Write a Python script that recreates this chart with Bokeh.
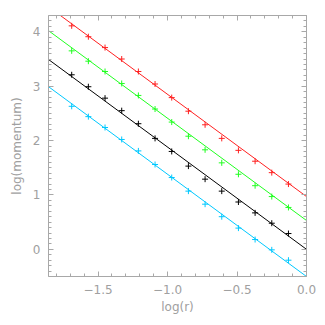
from bokeh.plotting import figure
from bokeh.models import LinearAxis, SingleIntervalTicker, Range1d, CustomLabelingPolicy
from bokeh.embed import file_html
from bokeh.resources import INLINE

# data
log_r = [-1.69, -1.57, -1.45, -1.33, -1.21, -1.09, -0.97, -0.85, -0.73, -0.61, -0.49, -0.37, -0.25, -0.13]
red_vals = [4.11, 3.91, 3.71, 3.50, 3.27, 3.04, 2.79, 2.54, 2.29, 2.04, 1.82, 1.62, 1.41, 1.20]
green_vals = [3.65, 3.46, 3.27, 3.05, 2.83, 2.58, 2.34, 2.08, 1.83, 1.59, 1.38, 1.17, 0.97, 0.77]
black_vals = [3.21, 2.99, 2.78, 2.55, 2.31, 2.04, 1.80, 1.53, 1.29, 1.07, 0.87, 0.67, 0.48, 0.29]
cyan_vals = [2.63, 2.44, 2.24, 2.02, 1.81, 1.56, 1.32, 1.07, 0.83, 0.60, 0.39, 0.18, -0.01, -0.20]
fit_slope = -1.88
fit_intercepts = [0.97, 0.53, 0.0, -0.5]
series_colors = ["#ff2020", "#20ff20", "#000000", "#00c8ff"]
x_ticks = [-1.5, -1.0, -0.5, 0.0]
x_tick_labels = ["\u22121.5", "\u22121.0", "\u22120.5", "0.0"]
x_range = (-1.857, 0.0)
y_range = (-0.5, 4.3)

AX = "#a8a8a8"
TXT = "#a0a0a0"
FONT = "DejaVu Sans"

p = figure(width=317, height=317, output_backend="svg", toolbar_location=None,
           x_range=Range1d(*x_range), y_range=Range1d(*y_range),
           x_axis_location=None, y_axis_location=None,
           min_border_left=48, min_border_right=8, min_border_top=15, min_border_bottom=41)
p.grid.visible = False
p.outline_line_color = None
p.background_fill_color = "white"
p.border_fill_color = "white"

no_labels = CustomLabelingPolicy(code="return new Set()")


def style(ax, labels=True):
    ax.axis_line_color = AX
    ax.major_tick_line_color = AX
    ax.minor_tick_line_color = AX
    ax.major_tick_in = 5
    ax.major_tick_out = 0
    ax.minor_tick_in = 3
    ax.minor_tick_out = 0
    ax.major_label_text_color = TXT
    ax.major_label_text_font = FONT
    ax.major_label_text_font_size = "12px"
    ax.axis_label_text_color = TXT
    ax.axis_label_text_font = FONT
    ax.axis_label_text_font_size = "12px"
    ax.axis_label_text_font_style = "normal"
    if not labels:
        ax.major_label_policy = no_labels
        ax.major_label_standoff = 0


xt = lambda: SingleIntervalTicker(interval=0.5, num_minor_ticks=5)
yt = lambda: SingleIntervalTicker(interval=1, num_minor_ticks=10)

bx = LinearAxis(ticker=xt(), axis_label="log(r)")
bx.major_label_overrides = {t: l for t, l in zip(x_ticks, x_tick_labels)}
style(bx)
bx.major_label_standoff = 8
bx.axis_label_standoff = 3
p.add_layout(bx, "below")

ly = LinearAxis(ticker=yt(), axis_label="log(momentum)")
style(ly)
ly.major_label_standoff = 8
ly.axis_label_standoff = 6
p.add_layout(ly, "left")

tx = LinearAxis(ticker=xt())
style(tx, labels=False)
p.add_layout(tx, "above")

ry = LinearAxis(ticker=yt())
style(ry, labels=False)
p.add_layout(ry, "right")

for vals, b, c in zip([red_vals, green_vals, black_vals, cyan_vals], fit_intercepts, series_colors):
    xs = list(x_range)
    ys = [b + fit_slope * xv for xv in xs]
    p.line(xs, ys, line_color=c, line_width=1)
    p.scatter(log_r, vals, marker="cross", size=6, line_color=c, line_width=1)

open("out.html", "w").write(file_html(p, INLINE))
